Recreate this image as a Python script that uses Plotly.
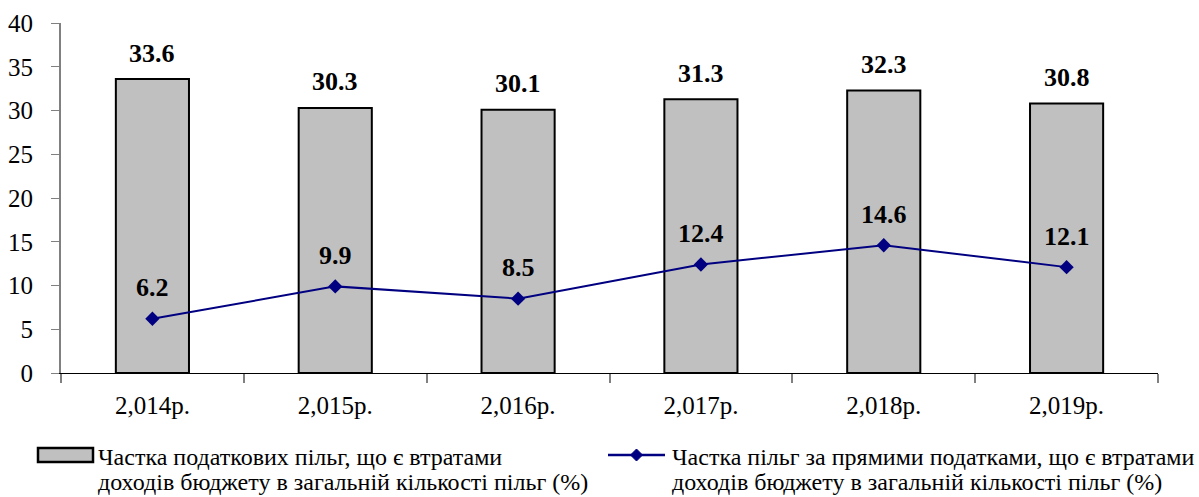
import plotly.graph_objects as go

years = ["2,014р.", "2,015р.", "2,016р.", "2,017р.", "2,018р.", "2,019р."]
share_losses = [33.6, 30.3, 30.1, 31.3, 32.3, 30.8]
share_direct = [6.2, 9.9, 8.5, 12.4, 14.6, 12.1]

label_bars = ["Частка податкових пільг, що є втратами",
              "доходів бюджету в загальній кількості пільг (%)"]
label_line = ["Частка пільг за прямими податками, що є втратами",
              "доходів бюджету в загальній кількості пільг (%)"]

FONT = "Liberation Serif"

# plot area geometry in pixels (used to place the legend in paper coordinates)
W, H = 1199, 497
ML, MR, MT, MB = 61, 41, 23, 124
PW, PH = W - ML - MR, H - MT - MB


def px(xp):
    return (xp - ML) / PW


def py(yp):
    return (H - MB - yp) / PH


fig = go.Figure()
fig.add_trace(go.Bar(
    x=years, y=share_losses, name=" ".join(label_bars),
    marker=dict(color="#c0c0c0", line=dict(color="black", width=2)),
    width=0.4,
))
fig.add_trace(go.Scatter(
    x=years, y=share_direct, name=" ".join(label_line), mode="lines+markers",
    line=dict(color="#000080", width=2),
    marker=dict(symbol="diamond", size=11, color="#000080"),
))

annotations = []
for x, v in zip(years, share_losses):
    annotations.append(dict(x=x, y=v, text=f"<b>{v}</b>", showarrow=False,
                            yshift=26, font=dict(family=FONT, size=26, color="black")))
for x, v in zip(years, share_direct):
    annotations.append(dict(x=x, y=v, text=f"<b>{v}</b>", showarrow=False,
                            yshift=31, font=dict(family=FONT, size=26, color="black")))

# legend drawn by hand: swatches plus two-line labels
for xp, lines in ((96, label_bars), (670, label_line)):
    for yp, line in zip((457, 482), lines):
        annotations.append(dict(xref="paper", yref="paper", x=px(xp), y=py(yp),
                                xanchor="left", yanchor="middle", align="left",
                                text=line, showarrow=False,
                                font=dict(family=FONT, size=24, color="black")))

shapes = [
    dict(type="rect", xref="paper", yref="paper",
         x0=px(38), x1=px(93), y0=py(448), y1=py(462),
         fillcolor="#c0c0c0", line=dict(color="black", width=2.5)),
    dict(type="line", xref="paper", yref="paper",
         x0=px(608), x1=px(665), y0=py(455), y1=py(455),
         line=dict(color="#000080", width=2.5)),
    dict(type="path", xref="paper", yref="paper",
         path=f"M {px(636.5)},{py(449)} L {px(642.5)},{py(455)} L {px(636.5)},{py(461)} L {px(630.5)},{py(455)} Z",
         fillcolor="#000080", line=dict(color="#000080", width=1)),
]

fig.update_layout(
    width=W, height=H,
    margin=dict(l=ML, r=MR, t=MT, b=MB, autoexpand=False),
    plot_bgcolor="white", paper_bgcolor="white",
    font=dict(family=FONT, size=25, color="black"),
    showlegend=False,
    annotations=annotations,
    shapes=shapes,
    bargap=0.6,
)
fig.update_xaxes(
    showline=True, linecolor="black", linewidth=1, automargin=False,
    ticks="outside", tickson="boundaries", ticklen=9, tickcolor="#808080",
    tickwidth=2, ticklabelstandoff=10, showgrid=False,
    tickfont=dict(family=FONT, size=25),
)
fig.update_yaxes(
    range=[0, 40], dtick=5, showline=True, linecolor="#808080", linewidth=2,
    automargin=False,
    ticks="outside", ticklen=8, tickcolor="#808080", tickwidth=1,
    showgrid=False, zeroline=False, ticklabelstandoff=13,
    tickfont=dict(family=FONT, size=25),
)

fig.write_html("out.html")
